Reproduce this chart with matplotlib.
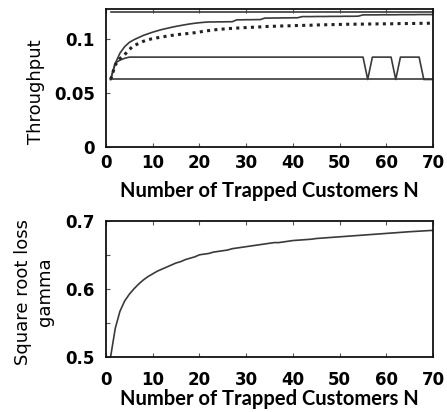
import matplotlib
matplotlib.use("Agg")
import matplotlib.pyplot as plt

N = list(range(1, 71))

upper_bound = [0.125] * 70
lower_bound = [0.0625] * 70

solid_upper = [
    0.0625, 0.0775, 0.0870, 0.0930, 0.0970, 0.0995, 0.1015, 0.1035, 0.1050, 0.1065,
    0.1078, 0.1090, 0.1100, 0.1110, 0.1119, 0.1127, 0.1135, 0.1142, 0.1148, 0.1153,
    0.1157, 0.1160, 0.1160, 0.1161, 0.1161, 0.1162, 0.1162, 0.1180, 0.1180, 0.1181,
    0.1181, 0.1182, 0.1182, 0.1196, 0.1196, 0.1197, 0.1197, 0.1198, 0.1198, 0.1199,
    0.1199, 0.1210, 0.1210, 0.1210, 0.1211, 0.1211, 0.1211, 0.1212, 0.1212, 0.1212,
    0.1213, 0.1213, 0.1213, 0.1214, 0.1226, 0.1226, 0.1226, 0.1226, 0.1227, 0.1227,
    0.1227, 0.1227, 0.1228, 0.1228, 0.1228, 0.1228, 0.1229, 0.1229, 0.1229, 0.1229,
]

dotted = [
    0.0625, 0.0760, 0.0820, 0.0855, 0.0905, 0.0940, 0.0960, 0.0980, 0.0995, 0.1005,
    0.1013, 0.1020, 0.1028, 0.1035, 0.1040, 0.1046, 0.1050, 0.1055, 0.1060, 0.1066,
    0.1075, 0.1080, 0.1086, 0.1090, 0.1094, 0.1098, 0.1100, 0.1103, 0.1106, 0.1108,
    0.1110, 0.1112, 0.1114, 0.1117, 0.1119, 0.1120, 0.1122, 0.1123, 0.1124, 0.1126,
    0.1127, 0.1128, 0.1129, 0.1130, 0.1132, 0.1133, 0.1134, 0.1135, 0.1136, 0.1137,
    0.1138, 0.1139, 0.1139, 0.1140, 0.1140, 0.1141, 0.1141, 0.1142, 0.1142, 0.1143,
    0.1143, 0.1144, 0.1145, 0.1145, 0.1146, 0.1146, 0.1147, 0.1148, 0.1148, 0.1149,
]

middle = [0.0625, 0.0778, 0.0805, 0.0822] + [0.0833] * 51 + [0.0625] + [0.0833] * 5 \
    + [0.0625] + [0.0833] * 5 + [0.0625, 0.0625, 0.0625]

gamma = [
    0.500, 0.542, 0.567, 0.582, 0.592, 0.600, 0.607, 0.613, 0.618, 0.622,
    0.626, 0.629, 0.632, 0.635, 0.638, 0.640, 0.643, 0.645, 0.647, 0.650,
    0.651, 0.652, 0.654, 0.655, 0.656, 0.657, 0.659, 0.660, 0.661, 0.662,
    0.663, 0.664, 0.665, 0.666, 0.667, 0.668, 0.668, 0.669, 0.670, 0.671,
    0.6715, 0.672, 0.6725, 0.673, 0.674, 0.6745, 0.675, 0.6755, 0.676, 0.6765,
    0.677, 0.6775, 0.678, 0.6785, 0.679, 0.6795, 0.680, 0.6805, 0.681, 0.6815,
    0.682, 0.6825, 0.683, 0.6835, 0.684, 0.6844, 0.6848, 0.6852, 0.6856, 0.686,
]

xticks = [0, 10, 20, 30, 40, 50, 60, 70]
top_yticks = [0, 0.05, 0.1]
top_yticklabels = ["0", "0.05", "0.1"]
bot_yticks = [0.5, 0.6, 0.7]
bot_yticklabels = ["0.5", "0.6", "0.7"]
xlabel = "Number of Trapped Customers N"

fig = plt.figure(figsize=(4.47, 4.12), dpi=100)
ax1 = fig.add_axes([0.237, 0.644, 0.732, 0.334])
ax2 = fig.add_axes([0.237, 0.134, 0.732, 0.330])

c = "#3a3a3a"
lw = 1.2
ax1.plot(N, upper_bound, color=c, lw=lw)
ax1.plot(N, lower_bound, color=c, lw=lw)
ax1.plot(N, middle, color=c, lw=lw)
ax1.plot(N, solid_upper, color=c, lw=lw)
ax1.plot(N, dotted, color="#222222", lw=2.2, ls=(0, (1, 1.4)))
ax1.set_xlim(0, 70)
ax1.set_ylim(0, 0.128)

ax2.plot(N, gamma, color=c, lw=lw)
ax2.set_xlim(0, 70)
ax2.set_ylim(0.5, 0.7)

tick_font = dict(family="DejaVu Sans", weight="bold", size=12)
for ax, yt, yl in [(ax1, top_yticks, top_yticklabels), (ax2, bot_yticks, bot_yticklabels)]:
    ax.set_xticks(xticks)
    ax.set_xticklabels([str(v) for v in xticks], fontdict=tick_font)
    ax.set_yticks(yt)
    ax.set_yticklabels(yl, fontdict=tick_font)
    ax.tick_params(direction="in", length=3, width=0.8, top=True, right=False, color="#555555")
    for s in ax.spines.values():
        s.set_linewidth(1.3)
        s.set_color("#111111")
    ax.set_xlabel(xlabel, fontsize=14.5, fontweight="bold", family="Lato", va="top")

ax1.xaxis.set_label_coords(0.5, -0.25)
ax2.xaxis.set_label_coords(0.5, -0.235)

ax2.set_yticks([0.55, 0.65], minor=True)
ax2.tick_params(which="minor", direction="in", length=3, width=0.8, color="#555555")
ax1.tick_params(axis="x", pad=5)
ax2.tick_params(axis="x", pad=10)
ax1.tick_params(axis="y", pad=8)
ax2.tick_params(axis="y", pad=8)

ax1.set_ylabel("Throughput", fontsize=13, family="DejaVu Sans")
ax1.yaxis.set_label_coords(-0.187, 0.40)
ax2.set_ylabel("Square root loss\ngamma", fontsize=13, family="DejaVu Sans", linespacing=1.25)
ax2.yaxis.set_label_coords(-0.16, 0.48)

fig.savefig("out.png", dpi=100)
